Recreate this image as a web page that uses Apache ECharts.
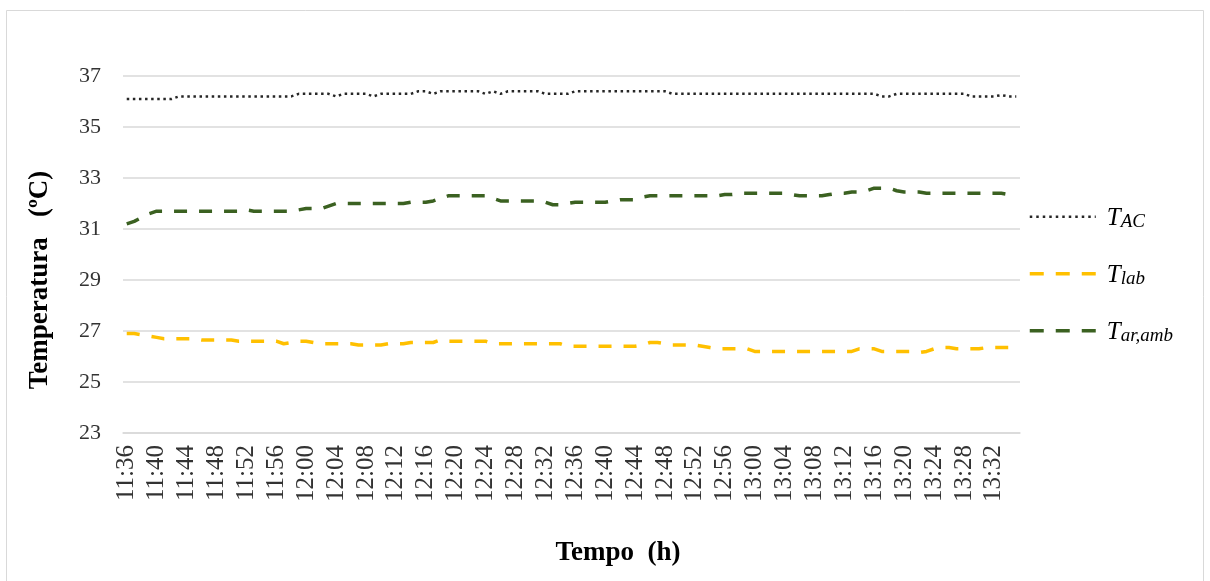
<!DOCTYPE html>
<html>
<head>
<meta charset="utf-8">
<title>Temperatura</title>
<script src="https://cdn.jsdelivr.net/npm/echarts@6/dist/echarts.min.js"></script>
<style>
  html, body { margin: 0; padding: 0; background: #ffffff; }
  #chart { width: 1210px; height: 581px; }
</style>
</head>
<body>
<div id="chart"></div>
<script>
// Time of each reading (one per minute)
const times = [
  '11:36','11:37','11:38','11:39','11:40','11:41','11:42','11:43','11:44','11:45',
  '11:46','11:47','11:48','11:49','11:50','11:51','11:52','11:53','11:54','11:55',
  '11:56','11:57','11:58','11:59','12:00','12:01','12:02','12:03','12:04','12:05',
  '12:06','12:07','12:08','12:09','12:10','12:11','12:12','12:13','12:14','12:15',
  '12:16','12:17','12:18','12:19','12:20','12:21','12:22','12:23','12:24','12:25',
  '12:26','12:27','12:28','12:29','12:30','12:31','12:32','12:33','12:34','12:35',
  '12:36','12:37','12:38','12:39','12:40','12:41','12:42','12:43','12:44','12:45',
  '12:46','12:47','12:48','12:49','12:50','12:51','12:52','12:53','12:54','12:55',
  '12:56','12:57','12:58','12:59','13:00','13:01','13:02','13:03','13:04','13:05',
  '13:06','13:07','13:08','13:09','13:10','13:11','13:12','13:13','13:14','13:15',
  '13:16','13:17','13:18','13:19','13:20','13:21','13:22','13:23','13:24','13:25',
  '13:26','13:27','13:28','13:29','13:30','13:31','13:32','13:33','13:34','13:35'
];

// T_AC (°C)
const tAC = [
  36.1,36.1,36.1,36.1,36.1,36.1,36.1,36.2,36.2,36.2,
  36.2,36.2,36.2,36.2,36.2,36.2,36.2,36.2,36.2,36.2,
  36.2,36.2,36.2,36.3,36.3,36.3,36.3,36.3,36.2,36.3,
  36.3,36.3,36.3,36.2,36.3,36.3,36.3,36.3,36.3,36.4,
  36.4,36.3,36.4,36.4,36.4,36.4,36.4,36.4,36.3,36.4,
  36.3,36.4,36.4,36.4,36.4,36.4,36.3,36.3,36.3,36.3,
  36.4,36.4,36.4,36.4,36.4,36.4,36.4,36.4,36.4,36.4,
  36.4,36.4,36.4,36.3,36.3,36.3,36.3,36.3,36.3,36.3,
  36.3,36.3,36.3,36.3,36.3,36.3,36.3,36.3,36.3,36.3,
  36.3,36.3,36.3,36.3,36.3,36.3,36.3,36.3,36.3,36.3,
  36.3,36.2,36.2,36.3,36.3,36.3,36.3,36.3,36.3,36.3,
  36.3,36.3,36.3,36.2,36.2,36.2,36.2,36.25,36.2,36.2
];

// T_lab (°C)
const tLab = [
  26.9,26.9,26.85,26.8,26.75,26.7,26.7,26.7,26.7,26.7,
  26.65,26.65,26.65,26.65,26.65,26.6,26.6,26.6,26.6,26.6,
  26.6,26.5,26.55,26.6,26.6,26.55,26.5,26.5,26.5,26.5,
  26.5,26.45,26.45,26.45,26.45,26.5,26.5,26.5,26.55,26.55,
  26.55,26.55,26.65,26.6,26.6,26.6,26.6,26.6,26.6,26.5,
  26.5,26.5,26.5,26.5,26.5,26.5,26.5,26.5,26.5,26.4,
  26.4,26.4,26.4,26.4,26.4,26.4,26.4,26.4,26.4,26.45,
  26.55,26.55,26.5,26.45,26.45,26.45,26.45,26.4,26.35,26.3,
  26.3,26.3,26.3,26.3,26.2,26.2,26.2,26.2,26.2,26.2,
  26.2,26.2,26.2,26.2,26.2,26.2,26.2,26.2,26.3,26.3,
  26.3,26.2,26.2,26.2,26.2,26.2,26.15,26.2,26.3,26.35,
  26.35,26.3,26.3,26.3,26.3,26.35,26.35,26.35,26.35,26.35
];

// T_ar,amb (°C)
const tArAmb = [
  31.2,31.3,31.45,31.6,31.7,31.7,31.7,31.7,31.7,31.7,
  31.7,31.7,31.7,31.7,31.7,31.7,31.75,31.7,31.7,31.7,
  31.7,31.7,31.7,31.75,31.8,31.8,31.8,31.9,32.0,32.0,
  32.0,32.0,32.0,32.0,32.0,32.0,32.0,32.0,32.05,32.05,
  32.05,32.1,32.2,32.3,32.3,32.3,32.3,32.3,32.3,32.2,
  32.1,32.1,32.1,32.1,32.1,32.1,32.05,31.95,31.95,32.0,
  32.05,32.05,32.05,32.05,32.05,32.1,32.15,32.15,32.15,32.25,
  32.3,32.3,32.3,32.3,32.3,32.3,32.3,32.3,32.3,32.3,
  32.35,32.35,32.4,32.4,32.4,32.4,32.4,32.4,32.4,32.35,
  32.3,32.3,32.3,32.3,32.35,32.4,32.4,32.45,32.45,32.5,
  32.6,32.6,32.6,32.5,32.45,32.45,32.45,32.4,32.4,32.4,
  32.4,32.4,32.4,32.4,32.4,32.4,32.4,32.4,32.35,32.3
];

const seriesNames = ['TAC', 'Tlab', 'Tar,amb'];
const legendText = {
  'TAC': '{t|T}{s|AC}',
  'Tlab': '{t|T}{s|lab}',
  'Tar,amb': '{t|T}{s|ar,amb}'
};

const SERIF = '"Liberation Serif", "Times New Roman", serif';
const GRID_COLOR = '#d9d9d9';

const STYLE_AC = { color: '#262626', width: 2.5, type: [2.5, 3.6], cap: 'butt' };
const STYLE_LAB = { color: '#ffc000', width: 3.5, type: [13, 12], cap: 'butt' };
const STYLE_AMB = { color: '#3b6121', width: 3.5, type: [13, 12], cap: 'butt' };

const chart = echarts.init(document.getElementById('chart'), null, { renderer: 'canvas' });

chart.setOption({
  backgroundColor: '#ffffff',
  animation: false,
  grid: { left: 123, right: 190, top: 76, bottom: 148, containLabel: false },
  legend: {
    orient: 'vertical',
    left: 1028,
    top: 206,
    padding: 0,
    itemWidth: 66,
    itemHeight: 14,
    itemGap: 32,
    data: [
      { name: seriesNames[0], lineStyle: { width: STYLE_AC.width, type: [2.5, 4] } },
      { name: seriesNames[1], lineStyle: { width: STYLE_LAB.width, type: [14, 12] } },
      { name: seriesNames[2], lineStyle: { width: STYLE_AMB.width, type: [14, 12] } }
    ],
    formatter: name => legendText[name],
    // keep only the line sample, no marker dot
    itemStyle: { opacity: 0 },
    textStyle: {
      rich: {
        t: { fontFamily: SERIF, fontStyle: 'italic', fontSize: 25, color: '#000', lineHeight: 28.5, verticalAlign: 'bottom', padding: [0, 0, 0, 6] },
        s: { fontFamily: SERIF, fontStyle: 'italic', fontSize: 19, color: '#000', lineHeight: 28.5, verticalAlign: 'bottom' }
      }
    }
  },
  xAxis: {
    type: 'category',
    data: times,
    boundaryGap: true,
    axisTick: { show: false },
    axisLine: { lineStyle: { color: GRID_COLOR, width: 1.5 } },
    axisLabel: {
      interval: 3,
      rotate: 90,
      margin: 12,
      fontFamily: SERIF,
      fontSize: 25,
      color: '#333333'
    }
  },
  yAxis: {
    type: 'value',
    min: 23,
    max: 37,
    interval: 2,
    axisLine: { show: false },
    axisTick: { show: false },
    splitLine: { lineStyle: { color: GRID_COLOR, width: 1.5 } },
    axisLabel: {
      margin: 22,
      fontFamily: SERIF,
      fontSize: 22,
      color: '#333333'
    }
  },
  series: [
    { name: 'TAC', type: 'line', data: tAC, symbol: 'none', lineStyle: STYLE_AC, itemStyle: { color: STYLE_AC.color } },
    { name: 'Tlab', type: 'line', data: tLab, symbol: 'none', lineStyle: STYLE_LAB, itemStyle: { color: STYLE_LAB.color } },
    { name: 'Tar,amb', type: 'line', data: tArAmb, symbol: 'none', lineStyle: STYLE_AMB, itemStyle: { color: STYLE_AMB.color } }
  ],
  graphic: [
    {
      type: 'rect',
      silent: true,
      shape: { x: 6.5, y: 10.5, width: 1197, height: 580 },
      style: { fill: 'none', stroke: '#d9d9d9', lineWidth: 1 }
    },
    {
      type: 'text',
      silent: true,
      x: 40,
      y: 280,
      rotation: Math.PI / 2,
      style: {
        text: 'Temperatura   (ºC)',
        fontFamily: SERIF,
        fontWeight: 'bold',
        fontSize: 27,
        fill: '#000000',
        align: 'center',
        verticalAlign: 'middle'
      }
    },
    {
      type: 'text',
      silent: true,
      x: 618,
      y: 553,
      style: {
        text: 'Tempo  (h)',
        fontFamily: SERIF,
        fontWeight: 'bold',
        fontSize: 27,
        fill: '#000000',
        align: 'center',
        verticalAlign: 'middle'
      }
    }
  ]
});
</script>
</body>
</html>
